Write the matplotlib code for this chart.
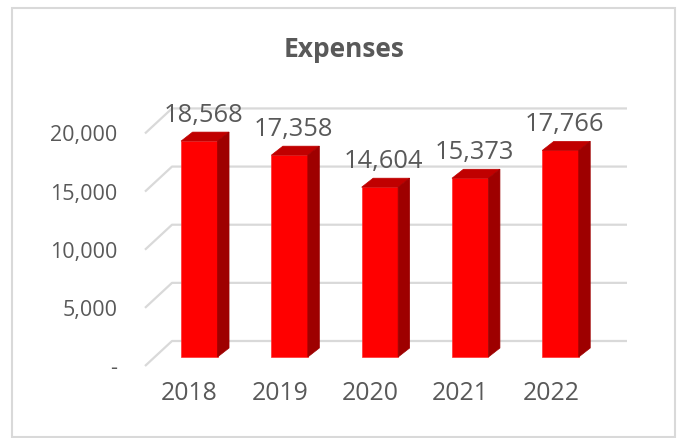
import matplotlib
matplotlib.use("Agg")
import matplotlib.pyplot as plt
from matplotlib.patches import Polygon, Rectangle

years = ["2018", "2019", "2020", "2021", "2022"]
expenses = [18568, 17358, 14604, 15373, 17766]
ytick_values = [0, 5000, 10000, 15000, 20000]
ytick_labels = ["-", "5,000", "10,000", "15,000", "20,000"]
title = "Expenses"

plt.rcParams['font.family'] = ['Open Sans', 'DejaVu Sans']
TXT = '#595959'
GRID = '#d9d9d9'

W, H = 682, 438
fig = plt.figure(figsize=(W / 100, H / 100), dpi=100)

# axes geometry in pixels
ax_left, ax_right, ax_top, ax_bottom = 145, 640, 95, 366
ax = fig.add_axes([ax_left / W, 1 - ax_bottom / H,
                   (ax_right - ax_left) / W, (ax_bottom - ax_top) / H])
PX_PER_CAT = 90.3
UNITS_PER_PX = 86.0
x0_px = 189.6


def dx(px):
    return px / PX_PER_CAT


def dy(px):
    return px * UNITS_PER_PX


xlim = ((ax_left - x0_px) / PX_PER_CAT, (ax_right - x0_px) / PX_PER_CAT)
ylim = (0, (ax_bottom - ax_top) * UNITS_PER_PX)
ax.set_xlim(*xlim)
ax.set_ylim(*ylim)

# gridlines: floor-left diagonal + back wall horizontal
x_back_right = (627 - x0_px) / PX_PER_CAT
for v in ytick_values:
    ax.plot([xlim[0], xlim[0] + dx(27), x_back_right],
            [v, v + dy(25), v + dy(25)], color=GRID, lw=1.6,
            solid_capstyle='butt', zorder=1, clip_on=False)

# bars
bar_w = 0.404
bar_dx, bar_dy = dx(9.7), dy(9)
side_dx, side_dy = dx(11.5), dy(9)
xs = list(range(len(years)))
bx = [x + bar_dx for x in xs]
ax.bar(bx, expenses, width=bar_w, bottom=bar_dy, color='#FF0000',
       edgecolor='#FF3030', linewidth=0.5, zorder=3)
for xc, v in zip(bx, expenses):
    xl, xr = xc - bar_w / 2, xc + bar_w / 2
    top = bar_dy + v
    ax.add_patch(Polygon([(xl, top), (xr, top), (xr + side_dx, top + side_dy),
                          (xl + side_dx, top + side_dy)], closed=True,
                         facecolor='#C00000', edgecolor='#C00000', lw=0.5,
                         zorder=3, clip_on=False))
    ax.add_patch(Polygon([(xr, bar_dy), (xr, top), (xr + side_dx, top + side_dy),
                          (xr + side_dx, bar_dy + side_dy)], closed=True,
                         facecolor='#9E0000', edgecolor='#9E0000', lw=0.5,
                         zorder=3, clip_on=False))
    ax.annotate(f"{v:,}", xy=(xc + dx(4), top + side_dy), xytext=(0, 7.2),
                textcoords='offset points', ha='center', va='baseline',
                fontsize=18.4, color=TXT, annotation_clip=False, zorder=4)

ax.set_xticks(xs, years)
ax.set_yticks(ytick_values, ytick_labels)
ax.tick_params(axis='x', length=0, pad=11, labelsize=17.8, labelcolor=TXT)
ax.tick_params(axis='y', length=0, pad=20, labelsize=15.5, labelcolor=TXT)
for s in ax.spines.values():
    s.set_visible(False)
ax.patch.set_alpha(0)

fig.text(344 / W, 1 - 57 / H, title, ha='center', va='baseline',
         fontsize=19, fontweight='bold', color=TXT)

fig.patches.append(Rectangle((12 / W, 1 - 437 / H), (675 - 12) / W, (437 - 8) / H,
                             transform=fig.transFigure, fill=False,
                             edgecolor=GRID, lw=1.5))

fig.savefig("out.png", dpi=100)
